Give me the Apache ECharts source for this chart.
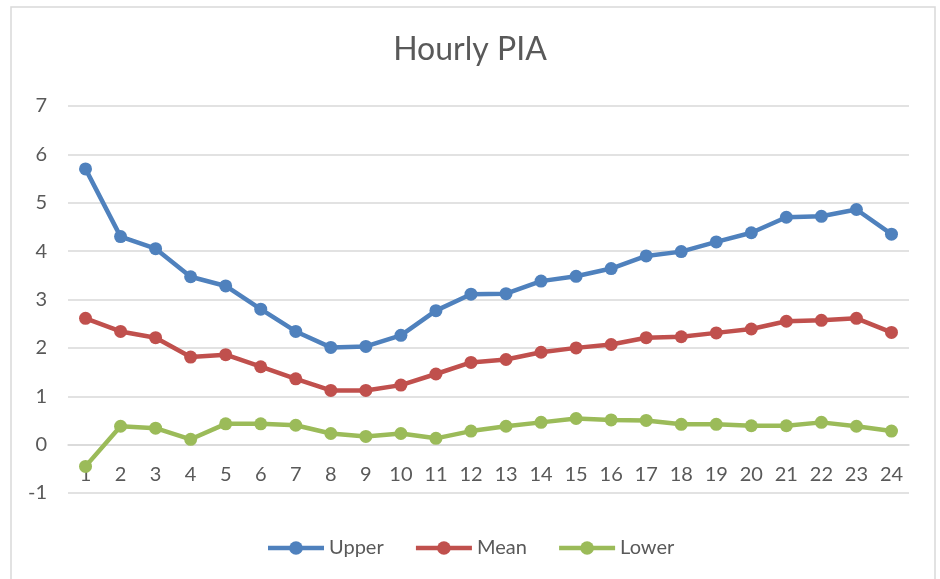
<!DOCTYPE html>
<html>
<head>
<meta charset="utf-8">
<title>Hourly PIA</title>
<script src="https://cdn.jsdelivr.net/npm/echarts@6/dist/echarts.min.js"></script>
<style>
    html, body { margin: 0; padding: 0; background: #fff; }
    #chart { width: 940px; height: 579px; }
</style>
</head>
<body>
<div id="chart"></div>
<script>
// hours on the x axis
const hours = ['1', '2', '3', '4', '5', '6', '7', '8', '9', '10', '11', '12',
    '13', '14', '15', '16', '17', '18', '19', '20', '21', '22', '23', '24'];

// values
const upper = [5.70, 4.30, 4.05, 3.47, 3.28, 2.80, 2.34, 2.01, 2.03, 2.26, 2.77, 3.11,
    3.12, 3.38, 3.48, 3.64, 3.90, 3.99, 4.19, 4.38, 4.70, 4.72, 4.86, 4.35];
const mean = [2.61, 2.34, 2.21, 1.81, 1.86, 1.61, 1.36, 1.12, 1.12, 1.23, 1.46, 1.70,
    1.76, 1.91, 2.00, 2.07, 2.21, 2.23, 2.31, 2.39, 2.55, 2.57, 2.61, 2.32];
const lower = [-0.45, 0.38, 0.34, 0.11, 0.43, 0.43, 0.40, 0.23, 0.17, 0.23, 0.13, 0.28,
    0.38, 0.46, 0.54, 0.51, 0.50, 0.42, 0.42, 0.39, 0.39, 0.46, 0.38, 0.28];

const TEXT_COLOR = '#595959';
const GRID_COLOR = '#d9d9d9';
const FONT = 'Lato, "Open Sans", sans-serif';

// grid box, the x axis sits on the 0 line (one step above the bottom)
const GRID_TOP = 106;
const GRID_BOTTOM = 86;
const Y_MIN = -1;
const Y_MAX = 7;
const ZERO_OFFSET = (579 - GRID_TOP - GRID_BOTTOM) / (Y_MAX - Y_MIN) * (0 - Y_MIN);

function lineSeries(name, data, color) {
    return {
        name,
        type: 'line',
        data,
        symbol: 'circle',
        symbolSize: 13,
        lineStyle: { width: 4.5, color },
        itemStyle: { color },
        emphasis: { disabled: true }
    };
}

const chart = echarts.init(document.getElementById('chart'));

chart.setOption({
    animation: false,
    backgroundColor: '#fff',
    textStyle: { fontFamily: FONT },
    title: {
        text: 'Hourly PIA',
        left: 'center',
        top: 29,
        textStyle: { fontSize: 32, fontWeight: 'normal', color: TEXT_COLOR, fontFamily: FONT }
    },
    graphic: [{
        type: 'rect',
        shape: { x: 11, y: 7, width: 924, height: 600 },
        style: { fill: 'none', stroke: GRID_COLOR, lineWidth: 1.5 },
        silent: true,
        z: -1
    }],
    legend: {
        bottom: 16,
        left: 'center',
        itemWidth: 56,
        itemHeight: 17,
        itemGap: 30,
        lineStyle: { width: 4.5 },
        textStyle: { fontSize: 20, color: TEXT_COLOR, fontFamily: FONT },
        data: ['Upper', 'Mean', 'Lower']
    },
    grid: { left: 68, right: 31, top: GRID_TOP, bottom: GRID_BOTTOM, containLabel: false },
    xAxis: {
        type: 'category',
        data: hours,
        boundaryGap: true,
        offset: -ZERO_OFFSET,
        axisLine: { onZero: false, lineStyle: { color: GRID_COLOR, width: 1.5 } },
        axisTick: { show: false },
        axisLabel: { color: TEXT_COLOR, fontSize: 20, margin: 20, fontFamily: FONT }
    },
    yAxis: {
        type: 'value',
        min: Y_MIN,
        max: Y_MAX,
        interval: 1,
        axisLine: { show: false },
        axisTick: { show: false },
        axisLabel: { color: TEXT_COLOR, fontSize: 20, margin: 21, fontFamily: FONT },
        splitLine: { lineStyle: { color: GRID_COLOR, width: 1.5 } }
    },
    series: [
        lineSeries('Upper', upper, '#4f81bd'),
        lineSeries('Mean', mean, '#c0504d'),
        lineSeries('Lower', lower, '#9bbb59')
    ]
});
</script>
</body>
</html>
